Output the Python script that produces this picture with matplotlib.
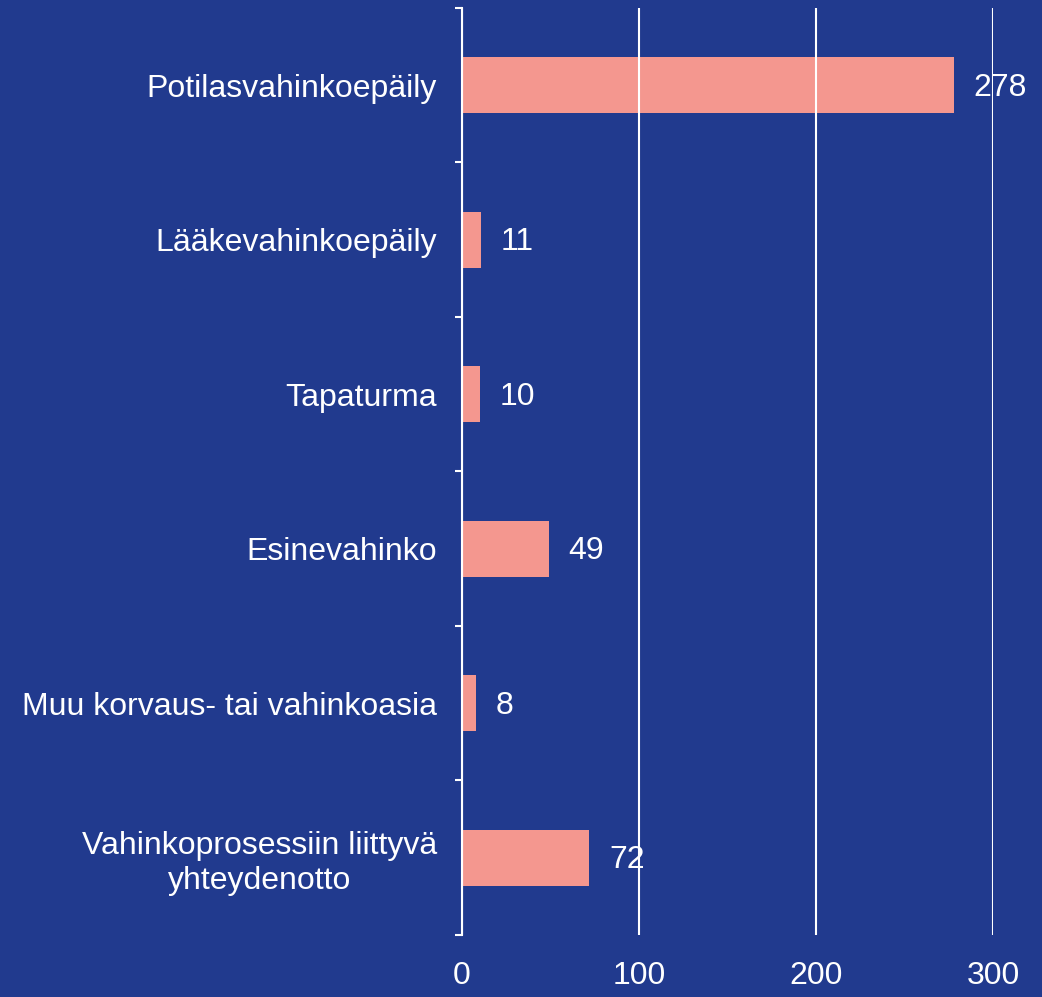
import numpy as np
from matplotlib import pyplot as plt

# data
categories = ["Potilasvahinkoepäily", "Lääkevahinkoepäily", "Tapaturma",
              "Esinevahinko", "Muu korvaus- tai vahinkoasia",
              "Vahinkoprosessiin liittyvä\nyhteydenotto"]
values = [278, 11, 10, 49, 8, 72]
x_ticks = [0, 100, 200, 300]

bg = '#213A8E'
bar_color = '#F4978F'

plt.rcParams['font.family'] = ['Liberation Sans', 'DejaVu Sans']

fig = plt.figure(figsize=(10.42, 9.97), dpi=100, facecolor=bg)
ax = fig.add_axes([0.4434, 0.0622, 0.953 - 0.4434, 0.992 - 0.0622])
ax.set_facecolor(bg)

y_pos = np.arange(len(categories))
ax.barh(y_pos, values, height=0.36, color=bar_color, zorder=2)

for y, v in zip(y_pos, values):
    ax.text(v + 11, y + 0.015, str(v), va='center', ha='left', color='white',
            fontsize=23, zorder=3)

ax.set_xlim(0, 300)
ax.set_ylim(len(categories) - 0.5, -0.5)
ax.set_xticks(x_ticks)
ax.set_xticklabels([str(t) for t in x_ticks])
ax.set_yticks(y_pos)
ax.set_yticklabels(categories, multialignment='center', linespacing=1.2)
ax.set_yticks(np.arange(-0.5, len(categories), 1.0), minor=True)

ax.tick_params(axis='x', length=0, pad=19, labelsize=23, colors='white')
ax.tick_params(axis='y', which='major', length=0, pad=18, labelsize=23,
               colors='white')
ax.tick_params(axis='y', which='minor', length=5, width=1.5, color='white',
               direction='out')

ax.xaxis.grid(True, color='white', lw=1.5, zorder=1)
ax.set_axisbelow(False)
for s in ['top', 'right', 'bottom']:
    ax.spines[s].set_visible(False)
ax.spines['left'].set_color('white')
ax.spines['left'].set_linewidth(1.5)
ax.spines['left'].set_zorder(4)

plt.savefig('out.png', dpi=100, facecolor=bg)
